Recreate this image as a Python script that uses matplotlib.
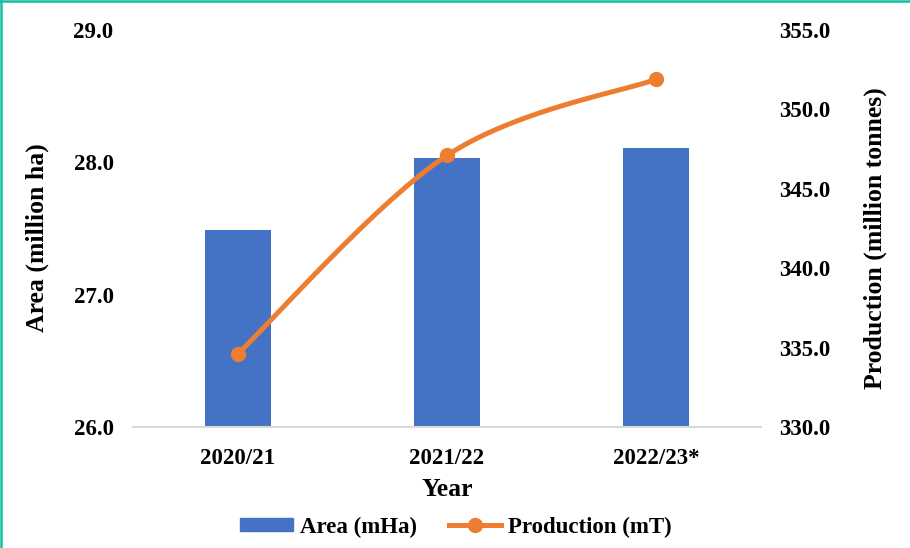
import matplotlib
matplotlib.use("Agg")
import matplotlib.pyplot as plt
import numpy as np
from matplotlib.patches import Rectangle
from matplotlib.lines import Line2D

years = ["2020/21", "2021/22", "2022/23*"]
area = [27.49, 28.03, 28.11]
production = [334.6, 347.1, 351.9]

plt.rcParams['font.family'] = ['Liberation Serif', 'DejaVu Serif']
plt.rcParams['font.weight'] = 'bold'
FS = 16.5
LFS = 18.5

fig = plt.figure(figsize=(9.10, 5.48), dpi=100)
ax = fig.add_axes([133/910, 1-427/548, (761-133)/910, (427-30)/548])
ax2 = ax.twinx()

x = np.arange(len(years))
ax.bar(x, area, width=0.316, color='#4472C4', label='Area (mHa)', zorder=2)
ax.set_ylim(26, 29)
ax.set_xlim(-0.5, 2.5)
ax.set_yticks([26, 27, 28, 29])
ax.set_yticklabels([f"{v:.1f}" for v in [26, 27, 28, 29]], fontsize=FS, fontweight='bold')
ax.set_xticks(x)
ax.set_xticklabels(years, fontsize=FS, fontweight='bold')
ax.tick_params(axis='both', length=0)
ax.tick_params(axis='y', pad=14)
ax.tick_params(axis='x', pad=15)

ax2.set_ylim(330, 355)
ax2.set_yticks([330, 335, 340, 345, 350, 355])
ax2.set_yticklabels([f"{v:.1f}" for v in [330, 335, 340, 345, 350, 355]], fontsize=FS, fontweight='bold')
ax2.tick_params(axis='y', length=0, pad=13)

for a in (ax, ax2):
    for s in a.spines.values():
        s.set_visible(False)
ax.spines['bottom'].set_visible(True)
ax.spines['bottom'].set_color('#D9D9D9')
ax.spines['bottom'].set_linewidth(1.5)

# smooth (Excel-like) curve computed in pixel-like space
sx, sy = 209.0, 15.88
px = np.array(x, float) * sx
py = np.array(production) * sy
P = np.column_stack([px, py])
Pext = np.vstack([P[0], P, P[-1]])
curve = []
for i in range(1, len(Pext) - 2):
    p0, p1, p2, p3 = Pext[i-1], Pext[i], Pext[i+1], Pext[i+2]
    c1 = p1 + (p2 - p0) / 6
    c2 = p2 - (p3 - p1) / 6
    t = np.linspace(0, 1, 60)[:, None]
    seg = (1-t)**3*p1 + 3*(1-t)**2*t*c1 + 3*(1-t)*t**2*c2 + t**3*p2
    curve.append(seg)
curve = np.vstack(curve)
ax2.plot(curve[:, 0]/sx, curve[:, 1]/sy, color='#ED7D31', lw=3.6, solid_capstyle='round', zorder=3)
ax2.plot(x, production, 'o', color='#ED7D31', ms=10, zorder=4)

fig.text(37/910, 1-238/548, 'Area (million ha)', rotation=90, ha='center', va='center',
         fontsize=LFS, fontweight='bold')
fig.text(875/910, 1-238/548, 'Production (million tonnes)', rotation=90, ha='center', va='center',
         fontsize=LFS, fontweight='bold')
fig.text(447/910, 1-490/548, 'Year', ha='center', va='center', fontsize=LFS, fontweight='bold')

h1 = Rectangle((0, 0), 1, 1, color='#4472C4')
h2 = Line2D([], [], color='#ED7D31', lw=3.6, marker='o', ms=10)
fig.legend([h1, h2], ['Area (mHa)', 'Production (mT)'], loc='center',
           bbox_to_anchor=(456/910, 1-527/548), ncol=2, frameon=False,
           prop={'size': FS, 'weight': 'bold', 'family': 'Liberation Serif'},
           handlelength=2.3, handleheight=0.5, handletextpad=0.3, columnspacing=1.4)

# border (left and top only visible)
border = '#14BF9F'
fig.add_artist(Line2D([1/910, 1/910], [0, 1], transform=fig.transFigure, color=border, lw=1.8, zorder=10))
fig.add_artist(Line2D([0, 1], [1-0.8/548, 1-0.8/548], transform=fig.transFigure, color=border, lw=1.8, zorder=10))

fig.savefig('out.png', dpi=100)
